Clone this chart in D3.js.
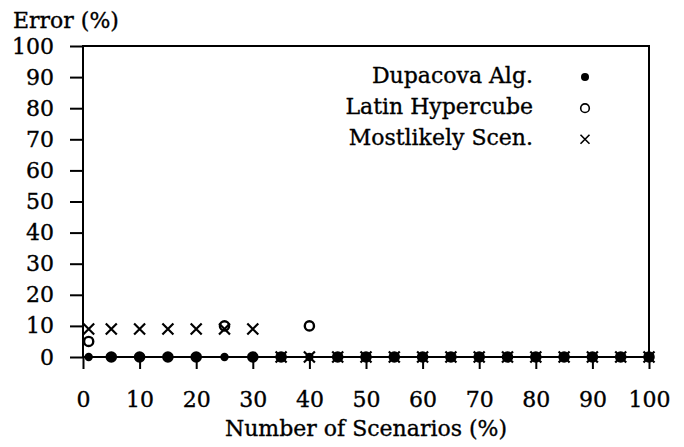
<!DOCTYPE html>
<html>
<head>
<meta charset="utf-8">
<script src="https://cdn.jsdelivr.net/npm/d3@7"></script>
<style>
  html, body { margin: 0; padding: 0; background: #fff; }
  svg text { font-family: 'DejaVu Serif', 'Liberation Serif', serif; fill: #000; stroke: #000; stroke-width: 0.35px; }
</style>
</head>
<body>
<div id="hook-chart"></div>
<script>
'use strict';

var scenarios = [1, 5, 10, 15, 20, 25, 30, 35, 40, 45, 50, 55, 60, 65, 70, 75, 80, 85, 90, 95, 100];
var dupacova = [0, 0, 0, 0, 0, 0, 0, 0, 0, 0, 0, 0, 0, 0, 0, 0, 0, 0, 0, 0, 0];
var latinHypercube = [5, 0, 0, 0, 0, 10, 0, 0, 10, 0, 0, 0, 0, 0, 0, 0, 0, 0, 0, 0, 0];
var mostlikely = [9, 9, 9, 9, 9, 9, 9, 0, 0, 0, 0, 0, 0, 0, 0, 0, 0, 0, 0, 0, 0];
var seriesNames = ['Dupacova Alg.', 'Latin Hypercube', 'Mostlikely Scen.'];
var xTicks = [0, 10, 20, 30, 40, 50, 60, 70, 80, 90, 100];
var yTicks = [0, 10, 20, 30, 40, 50, 60, 70, 80, 90, 100];

(function() {

var options = {
  width: 684,
  height: 447,
  left: 83,
  right: 35,
  top: 46,
  bottom: 90,
  fontSize: 22
};

var svg = d3.select('#hook-chart')
  .append('svg')
  .attr('width', options.width)
  .attr('height', options.height);

var x = d3.scaleLinear()
  .domain([0, 100])
  .range([options.left, options.width - options.right]);

var y = d3.scaleLinear()
  .domain([0, 100])
  .range([options.height - options.bottom, options.top]);

// axes, ticks pointing outwards
var xAxis = svg.append('g')
  .attr('transform', 'translate(0,' + y(0) + ')')
  .call(d3.axisBottom(x).tickValues(xTicks).tickSize(12).tickSizeOuter(0).tickPadding(22));

var yAxis = svg.append('g')
  .attr('transform', 'translate(' + x(0) + ',0)')
  .call(d3.axisLeft(y).tickValues(yTicks).tickSize(13).tickSizeOuter(0).tickPadding(16));

[xAxis, yAxis].forEach(function(a) {
  a.select('.domain').remove();
  a.selectAll('line').attr('stroke', '#000').attr('stroke-width', 2);
  a.selectAll('text')
    .attr('fill', '#000')
    .style('font-size', options.fontSize + 'px')
    .style('font-family', "'DejaVu Serif', serif");
});

// frame
svg.append('rect')
  .attr('x', x(0))
  .attr('y', y(100))
  .attr('width', x(100) - x(0))
  .attr('height', y(0) - y(100))
  .style('fill', 'none')
  .style('stroke', '#000')
  .style('stroke-width', 2);

// axis titles
svg.append('text')
  .attr('x', 13)
  .attr('y', 28)
  .style('font-size', options.fontSize + 'px')
  .text('Error (%)');

svg.append('text')
  .attr('x', (x(0) + x(100)) / 2)
  .attr('y', 436)
  .attr('text-anchor', 'middle')
  .style('font-size', options.fontSize + 'px')
  .text('Number of Scenarios (%)');

// markers
function drawDot(g, cx, cy, r) {
  g.append('circle')
    .attr('cx', cx).attr('cy', cy).attr('r', r)
    .style('fill', '#000');
}
function drawCircle(g, cx, cy, r, w) {
  g.append('circle')
    .attr('cx', cx).attr('cy', cy).attr('r', r)
    .style('fill', 'none')
    .style('stroke', '#000')
    .style('stroke-width', w);
}
function drawCross(g, cx, cy, s, w) {
  g.append('path')
    .attr('d', 'M' + (cx - s) + ',' + (cy - s) + 'L' + (cx + s) + ',' + (cy + s) +
      'M' + (cx - s) + ',' + (cy + s) + 'L' + (cx + s) + ',' + (cy - s))
    .style('stroke', '#000')
    .style('stroke-width', w)
    .style('fill', 'none');
}

var marks = svg.append('g');
scenarios.forEach(function(s, i) {
  drawDot(marks, x(s), y(dupacova[i]), 4.2);
  drawCircle(marks, x(s), y(latinHypercube[i]), 4.6, 2.4);
  drawCross(marks, x(s), y(mostlikely[i]), 5.5, 2.2);
});

// legend
var legendY = [90, 80, 70];
var legend = svg.append('g');
seriesNames.forEach(function(n, i) {
  var ly = y(legendY[i]);
  legend.append('text')
    .attr('x', 533)
    .attr('y', ly + 6)
    .attr('text-anchor', 'end')
    .style('font-size', options.fontSize + 'px')
    .text(n);
});
drawDot(legend, 585, y(90), 4);
drawCircle(legend, 585, y(80), 4.3, 1.6);
drawCross(legend, 585, y(70), 4.5, 1.6);

}());
</script>
</body>
</html>
